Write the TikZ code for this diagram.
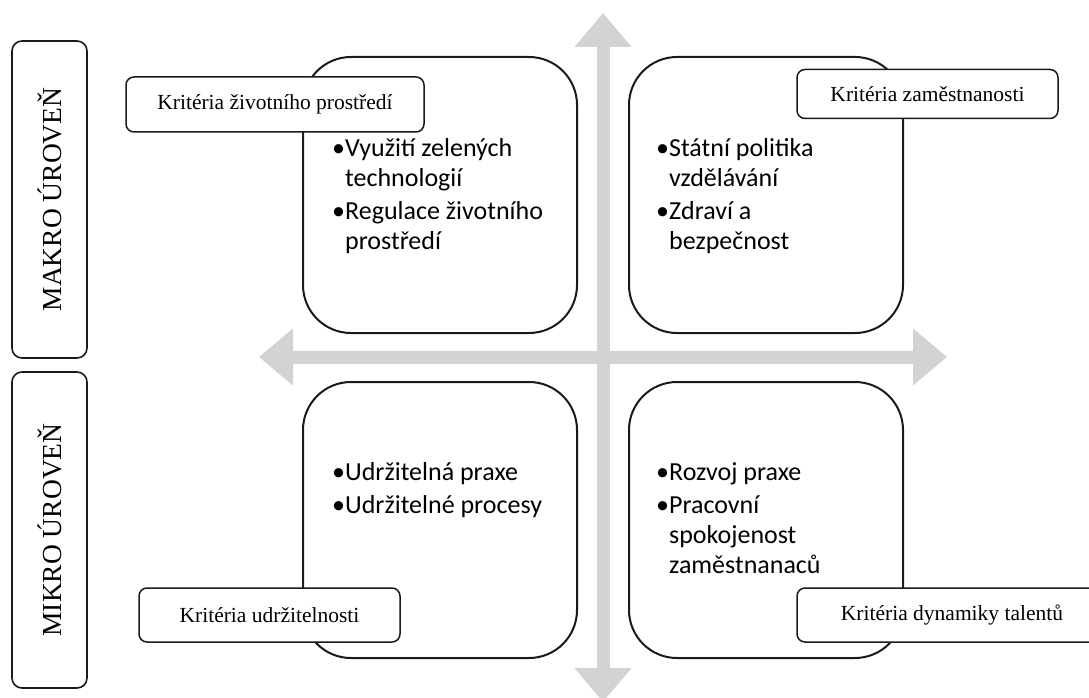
\documentclass[tikz,border=0pt]{standalone}
\usepackage{fontspec}
\setmainfont{Liberation Serif}
\newfontfamily\bodyfont{Carlito}
\usetikzlibrary{arrows.meta}
\definecolor{cgrey}{HTML}{D3D3D3}
\definecolor{cline}{HTML}{1A1A1A}
\tikzset{
  quad/.style={draw=cline, fill=white, line width=2pt, rounded corners=48pt, minimum width=274pt, minimum height=276pt},
  crit/.style={draw=cline, fill=white, line width=1.5pt, rounded corners=8pt, inner sep=0pt, font=\fontsize{21.5}{24}\selectfont},
  level/.style={draw=cline, line width=1.6pt, rounded corners=10pt, rotate=90, minimum height=75pt, inner sep=0pt, font=\fontsize{27.5}{30}\selectfont},
  items/.style={anchor=north west, align=left, inner sep=0pt, font=\bodyfont\fontsize{26}{30}\selectfont},
  axis/.style={draw=cgrey, line width=13pt, {Triangle[length=34pt, width=55pt]}-{Triangle[length=34pt, width=55pt]}},
}
\newcommand{\gap}{\phantom{\textbullet}}

\begin{document}
\begin{tikzpicture}[x=1pt, y=-1pt]
  \useasboundingbox (0,0) rectangle (1089,698);
  % axes
  \coordinate (axtop) at (603,13);
  \coordinate (axbot) at (603,702);
  \coordinate (axl) at (259,357);
  \coordinate (axr) at (947,357);
  \draw[axis] (axbot) -- (axtop);
  \draw[axis] (axl) -- (axr);
  % levels
  \node[level, minimum width=317pt] (makro) at (49.5,199.5) {MAKRO ÚROVEŇ};
  \node[level, minimum width=316pt] (mikro) at (49.5,530) {MIKRO ÚROVEŇ};
  % quadrants
  \node[quad] (tl) at (440,195) {};
  \node[quad] (tr) at (766,195) {};
  \node[quad] (bl) at (440,520) {};
  \node[quad] (br) at (766,520) {};
  \node[items] (tltext) at (332,138) {\textbullet Využití zelených\\\gap technologií\\[3pt]\textbullet Regulace životního\\\gap prostředí};
  \node[items] (trtext) at (656,138) {\textbullet Státní politika\\\gap vzdělávání\\[3pt]\textbullet Zdraví a\\\gap bezpečnost};
  \node[items] (bltext) at (332,462) {\textbullet Udržitelná praxe\\[3pt]\textbullet Udržitelné procesy};
  \node[items] (brtext) at (656,462) {\textbullet Rozvoj praxe\\[3pt]\textbullet Pracovní\\\gap spokojenost\\\gap zaměstnanaců};
  % criteria labels
  \node[crit, minimum width=298pt, minimum height=55pt] (env) at (275,104.5) {Kritéria životního prostředí};
  \node[crit, minimum width=261pt, minimum height=49pt] (emp) at (927.5,94) {Kritéria zaměstnanosti};
  \node[crit, minimum width=261pt, minimum height=54pt] (sus) at (269.5,615) {Kritéria udržitelnosti};
  \node[crit, minimum width=310pt, minimum height=54pt] (tal) at (952,615) {Kritéria dynamiky talentů};
\end{tikzpicture}
\end{document}
